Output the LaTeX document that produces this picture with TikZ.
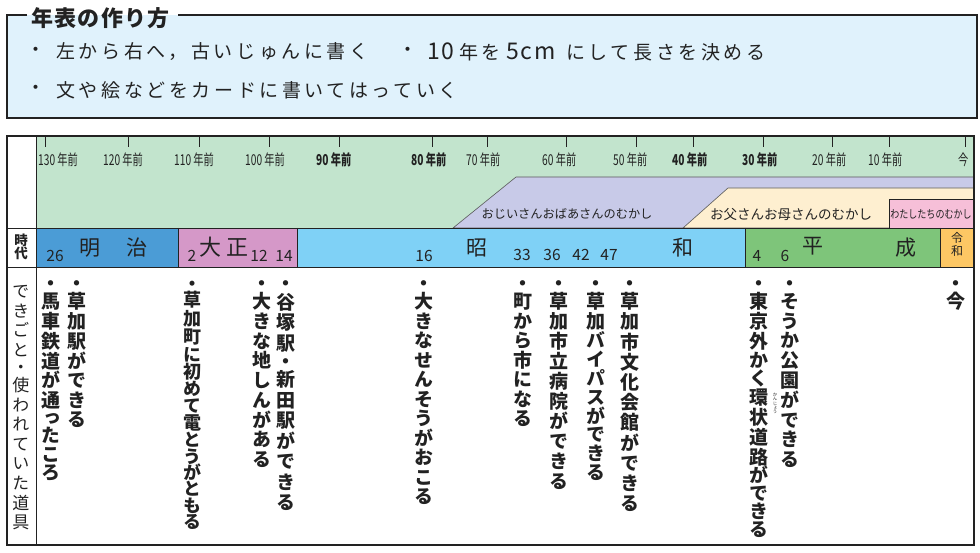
\documentclass[tikz,border=0pt]{standalone}
\usepackage{fontspec}
\setmainfont{Noto Sans CJK JP}
\newfontfamily\vfont[RawFeature=+vert]{Noto Sans CJK JP}
\newfontfamily\condfont[FakeStretch=0.68]{Noto Sans CJK JP}
\newfontfamily\pinkfont[FakeStretch=0.8]{Noto Sans CJK JP}
\newfontfamily\spfont[LetterSpace=19]{Noto Sans CJK JP}
\newfontfamily\latfont[LetterSpace=8]{Noto Sans CJK JP}
\newfontfamily\titlefont[LetterSpace=6]{Noto Sans CJK JP}
\makeatletter
\newdimen\tate@p
\newdimen\tate@c
\def\tate@kf{1}
\def\tate@end{}
\newcommand\tate[3][1]{\def\tate@kf{#1}\tate@p=#2\relax\vbox{\offinterlineskip\tate@loop#3\tate@end}}
\def\tate@loop#1{\ifx#1\tate@end\else\tate@cell{#1}\expandafter\tate@loop\fi}
\def\tate@cell#1{%
  \tate@c=\tate@p
  \ifnum`#1<"4E00
    \ifnum`#1="30FB \tate@c=.8\tate@p
    \else\ifnum`#1="3063 \tate@c=.78\tate@p
    \else\ifnum`#1="3087 \tate@c=.7\tate@p
    \else\ifnum`#1>"303F \tate@c=\tate@kf\tate@p
    \fi\fi\fi\fi
  \fi
  \hbox to 1em{\hss\vrule height .5\tate@c depth .5\tate@c width 0pt\smash{\lower.38em\hbox{#1}}\hss}}
\makeatother
\definecolor{boxblue}{HTML}{E0F2FC}
\definecolor{hdrgreen}{HTML}{C2E4CD}
\definecolor{lavfill}{HTML}{C8CAE8}
\definecolor{creamfill}{HTML}{FEEFD0}
\definecolor{pinkfill}{HTML}{F6BFD8}
\definecolor{meiji}{HTML}{4B9CD6}
\definecolor{taisho}{HTML}{D598C8}
\definecolor{showa}{HTML}{7FD1F6}
\definecolor{heisei}{HTML}{7EC57A}
\definecolor{reiwa}{HTML}{FDC764}
\definecolor{dark}{HTML}{222222}
\definecolor{bandline}{HTML}{5A5A5A}
\tikzset{
  frame/.style={draw=dark, line width=1.2pt},
  grid/.style={draw=dark, line width=0.9pt},
  tick/.style={draw=dark, line width=0.8pt},
  txt/.style={inner sep=0pt, text=dark},
  topline/.style={txt, anchor=west, font=\spfont\fontsize{19}{19}\selectfont},
  toplat/.style={txt, font=\latfont\fontsize{23}{23}\selectfont},
  topdot/.style={txt, font=\fontsize{19}{19}\selectfont},
  ticklab/.style={txt, anchor=west, font=\condfont\fontsize{15}{15}\selectfont},
  ticklabb/.style={txt, anchor=west, font=\condfont\bfseries\fontsize{15}{15}\selectfont},
  eranum/.style={txt, font=\fontsize{15.5}{15.5}\selectfont},
  erakanji/.style={txt, font=\fontsize{21}{21}\selectfont},
  ev/.style={txt, anchor=north, font=\vfont\bfseries\fontsize{19}{19}\selectfont},
}
\begin{document}
\begin{tikzpicture}[x=1pt,y=-1pt]
\useasboundingbox (0,0) rectangle (980,553);
% ---- top box
\fill[boxblue] (7,15) rectangle (977,118);
\draw[frame] (27,15) -- (7,15) -- (7,118) -- (977,118) -- (977,15) -- (178,15);
\node[txt, anchor=west, font=\titlefont\bfseries\fontsize{22}{22}\selectfont] (title) at (31,18) {年表の作り方};
\node[topdot] (d1) at (36,52) {・};
\node[topline] (l1a) at (56,52) {左から右へ，古いじゅんに書く};
\node[topdot] (d2) at (408,52) {・};
\node[toplat] (l1b) at (441,51) {10};
\node[topline] (l1c) at (459,52) {年を};
\node[toplat] (l1d) at (531,51) {5cm};
\node[topline] (l1e) at (566,52) {にして長さを決める};
\node[topdot] (d3) at (36,90) {・};
\node[topline] (l2) at (56,90) {文や絵などをカードに書いてはっていく};
% ---- header
\fill[hdrgreen] (36,136) rectangle (974,228);
\filldraw[fill=lavfill, draw=bandline, line width=0.6pt] (453,228) -- (516,177) -- (974,177) -- (974,228) -- cycle;
\filldraw[fill=creamfill, draw=bandline, line width=0.6pt] (683,228) -- (728,188) -- (974,188) -- (974,228) -- cycle;
\filldraw[fill=pinkfill, draw=dark, line width=0.6pt] (889,199) rectangle (974,228);
\node[txt, font=\fontsize{12.2}{12.2}\selectfont] (gp) at (567,214) {おじいさんおばあさんのむかし};
\node[txt, font=\fontsize{13.5}{13.5}\selectfont] (pa) at (791,214) {お父さんお母さんのむかし};
\node[txt, font=\pinkfont\fontsize{11.3}{11.3}\selectfont] (we) at (931,214) {わたしたちのむかし};
\foreach \x in {45,128,199,269,339,432,487,566,636,693,763,832,889,965}
  \draw[tick] (\x,136) -- (\x,147);
\node[ticklab] (t130) at (38,160) {130 年前};
\node[ticklab] (t120) at (103,160) {120 年前};
\node[ticklab] (t110) at (174,160) {110 年前};
\node[ticklab] (t100) at (245,160) {100 年前};
\node[ticklabb] (t90) at (316,160) {90 年前};
\node[ticklabb] (t80) at (411,160) {80 年前};
\node[ticklab] (t70) at (466,160) {70 年前};
\node[ticklab] (t60) at (542,160) {60 年前};
\node[ticklab] (t50) at (613,160) {50 年前};
\node[ticklabb] (t40) at (672,160) {40 年前};
\node[ticklabb] (t30) at (742,160) {30 年前};
\node[ticklab] (t20) at (812,160) {20 年前};
\node[ticklab] (t10) at (868,160) {10 年前};
\node[ticklab] (t0) at (958,160) {今};
% ---- era row
\fill[meiji] (36,228) rectangle (178,267);
\fill[taisho] (178,228) rectangle (297,267);
\fill[showa] (297,228) rectangle (745,267);
\fill[heisei] (745,228) rectangle (940,267);
\fill[reiwa] (940,228) rectangle (974,267);
\foreach \x in {178,297,745,940} \draw[grid] (\x,228) -- (\x,267);
\draw[grid] (7,228) -- (974,228);
\draw[grid] (7,267) -- (974,267);
\draw[grid] (36,136) -- (36,545);
\draw[frame] (7,136) rectangle (974,545);
\node[txt, anchor=north, font=\bfseries\fontsize{13.5}{13.5}\selectfont] (jidai) at (21,234) {\tate{12.5pt}{時代}};
\node[eranum] (n26) at (55,256) {26};
\node[erakanji] (mei) at (90,248) {明};
\node[erakanji] (ji) at (137,248) {治};
\node[eranum] (n2) at (192,256) {2};
\node[erakanji, font=\fontsize{22}{22}\selectfont] (tai) at (210,247) {大};
\node[erakanji, font=\fontsize{22}{22}\selectfont] (sho) at (237,247) {正};
\node[eranum] (n12) at (259,256) {12};
\node[eranum] (n14) at (284,256) {14};
\node[eranum] (n16) at (424,256) {16};
\node[erakanji] (shou) at (477,248) {昭};
\node[eranum] (n33) at (522,255) {33};
\node[eranum] (n36) at (552,255) {36};
\node[eranum] (n42) at (581,255) {42};
\node[eranum] (n47) at (609,255) {47};
\node[erakanji] (wa) at (683,248) {和};
\node[eranum] (n4) at (757,256) {4};
\node[eranum] (n6) at (785,256) {6};
\node[erakanji] (hei) at (813,246) {平};
\node[erakanji] (sei) at (906,248) {成};
\node[txt, anchor=north, font=\fontsize{12}{12}\selectfont] (rei) at (957,231) {\tate{13pt}{令和}};
% ---- events
\node[txt, anchor=north, font=\vfont\fontsize{17}{17}\selectfont] (dekigoto) at (21,281) {\tate{19.6pt}{できごと・使われていた道具}};
\node[ev] (e1) at (51,275) {\tate[0.94]{20pt}{・馬車鉄道が通ったころ}};
\node[ev] (e2) at (77,275) {\tate[0.975]{20pt}{・草加駅ができる}};
\node[ev, font=\vfont\bfseries\fontsize{18}{18}\selectfont] (e3) at (192,275.6) {\tate[0.88]{18.5pt}{・草加町に初めて電とうがともる}};
\node[ev] (e4) at (262,275) {\tate[0.986]{20pt}{・大きな地しんがある}};
\node[ev] (e5) at (286,275) {\tate{20.5pt}{・谷塚駅・新田駅ができる}};
\node[ev] (e6) at (424,275) {\tate[0.975]{20pt}{・大きなせんそうがおこる}};
\node[ev] (e7) at (523,275) {\tate[0.97]{20pt}{・町から市になる}};
\node[ev] (e8) at (559,275) {\tate{20pt}{・草加市立病院ができる}};
\node[ev] (e9) at (596,275) {\tate[0.94]{20pt}{・草加バイパスができる}};
\node[ev] (e10) at (630,275) {\tate{20.2pt}{・草加市文化会館ができる}};
\node[ev] (e11) at (759,275) {\tate[0.89]{20pt}{・東京外かく環状道路ができる}};
\node[ev] (e12) at (790,275) {\tate[0.986]{20pt}{・そうか公園ができる}};
\node[ev] (e13) at (956,275) {\tate{20pt}{・今}};
\node[txt, anchor=north, font=\vfont\fontsize{4.4}{4.4}\selectfont] (ruby) at (775,392) {\tate{4.6pt}{かんじょう}};
\end{tikzpicture}
\end{document}
